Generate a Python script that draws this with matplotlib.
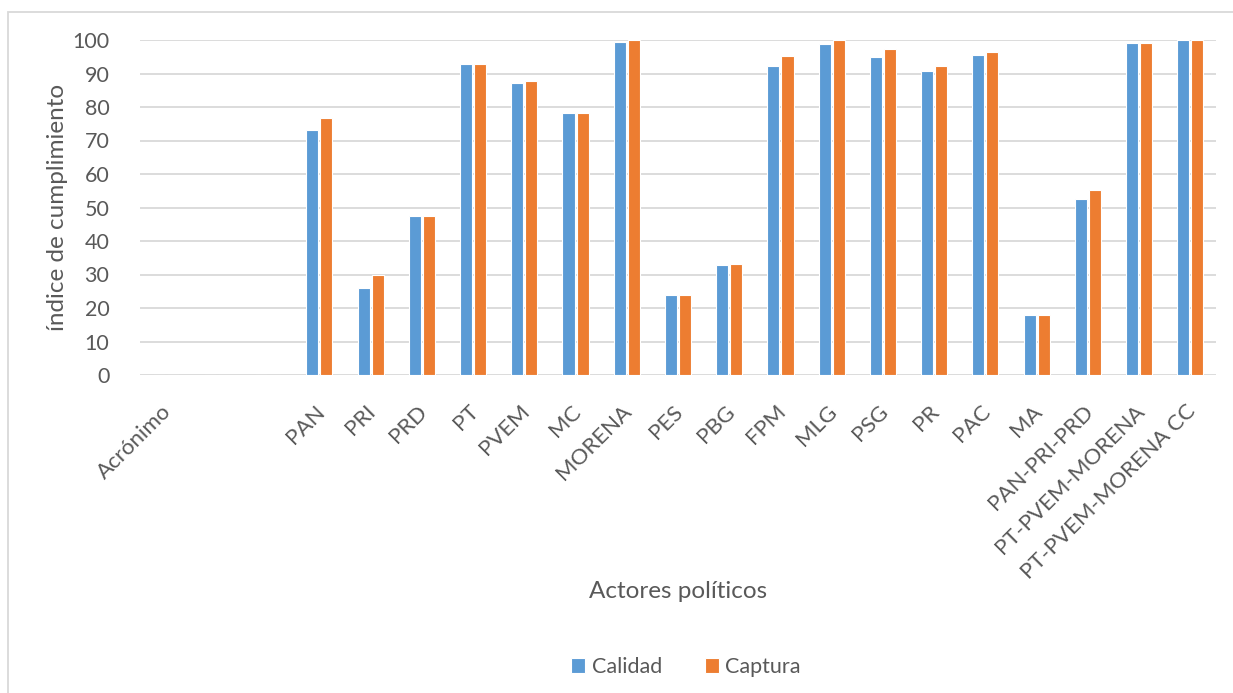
import matplotlib
matplotlib.use("Agg")
import matplotlib.pyplot as plt
import matplotlib.transforms as mtransforms
from matplotlib.patches import Rectangle
import numpy as np

categories = ["Acrónimo", "", "", "PAN", "PRI", "PRD", "PT", "PVEM", "MC", "MORENA",
              "PES", "PBG", "FPM", "MLG", "PSG", "PR", "PAC", "MA", "PAN-PRI-PRD",
              "PT-PVEM-MORENA", "PT-PVEM-MORENA CC"]
calidad = [0, 0, 0, 73.0, 26.1, 47.6, 92.8, 87.1, 78.3, 99.4, 23.8, 32.9, 92.3, 98.8,
           95.0, 90.8, 95.4, 17.9, 52.4, 99.1, 100.0]
captura = [0, 0, 0, 76.8, 29.8, 47.6, 92.8, 87.7, 78.3, 100.0, 23.8, 33.2, 95.3, 99.9,
           97.2, 92.1, 96.5, 17.9, 55.1, 99.1, 100.0]
series_names = ["Calidad", "Captura"]
yticks = list(range(0, 101, 10))

BLUE = "#5B9BD5"
ORANGE = "#ED7D31"
TXT = "#595959"
GRID = "#D9D9D9"

plt.rcParams['font.family'] = ['Lato', 'DejaVu Sans']

W, H = 1233, 693
fig = plt.figure(figsize=(W / 100, H / 100), dpi=100)
fig.patch.set_facecolor("white")

# outer chart border
fig.add_artist(Rectangle((7.5 / W, -0.1), 1.2, 1 - 11.5 / H + 0.1, transform=fig.transFigure,
                         fill=False, edgecolor="#D9D9D9", linewidth=1.3))

left, right = 140 / W, 1216 / W
bottom, top = 1 - 375 / H, 1 - 40 / H
ax = fig.add_axes([left, bottom, right - left, top - bottom])

x = np.arange(len(categories))
bw = 0.235
off = 0.137
ax.bar(x - off, calidad, width=bw, color=BLUE, edgecolor="white", linewidth=0.8,
       label=series_names[0], zorder=3)
ax.bar(x + off, captura, width=bw, color=ORANGE, edgecolor="white", linewidth=0.8,
       label=series_names[1], zorder=3)

ax.set_xlim(-0.5, len(categories) - 0.5)
ax.set_ylim(0, 100)
ax.set_yticks(yticks)
ax.tick_params(axis='y', length=0, pad=22, labelsize=15.5, labelcolor=TXT)
ax.tick_params(axis='x', length=0, pad=19, labelsize=16, labelcolor=TXT)
ax.yaxis.grid(True, color=GRID, linewidth=1.3, zorder=0)
ax.set_axisbelow(True)
for s in ax.spines.values():
    s.set_visible(False)

ax.set_xticks(x)
ax.set_xticklabels(categories, rotation=45, ha='right', va='top', rotation_mode='anchor')
shift = mtransforms.ScaledTranslation(-5 / 100, 0, fig.dpi_scale_trans)
for lbl in ax.get_xticklabels():
    lbl.set_transform(lbl.get_transform() + shift)

ax.set_ylabel("índice de cumplimiento", fontsize=17.5, color=TXT, va='center')
ax.yaxis.set_label_coords((58 - 140) / (1216 - 140), 0.5)

fig.text((140 + 1216) / 2 / W, 1 - 592 / H, "Actores políticos", ha='center', va='center',
         fontsize=17.5, color=TXT)

handles, labels = ax.get_legend_handles_labels()
fig.legend(handles, labels, loc='center', bbox_to_anchor=(686 / W, 1 - 667 / H), ncol=2,
           frameon=False, fontsize=15.5, labelcolor=TXT, handlelength=0.65, handleheight=0.65,
           columnspacing=2.0, handletextpad=0.3)

fig.savefig("out.png", dpi=100, facecolor="white")
